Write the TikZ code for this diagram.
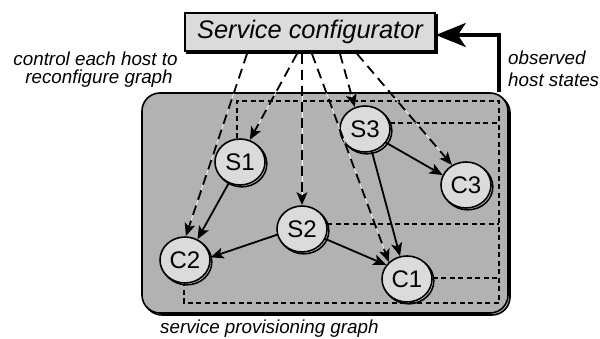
\documentclass[tikz,border=0pt]{standalone}
\usepackage{fontspec}
\setmainfont{Liberation Sans}
\usetikzlibrary{arrows.meta,shapes.geometric,shadows,calc}

\definecolor{nodefill}{gray}{0.86}
\definecolor{panelfill}{gray}{0.70}

\begin{document}
\begin{tikzpicture}[x=1pt,y=-1pt,
  host/.style={ellipse, draw, line width=1.6pt, fill=nodefill,
    minimum width=50pt, minimum height=46pt, inner sep=0pt,
    font=\fontsize{24}{28}\selectfont,
    copy shadow={shadow xshift=1.8pt, shadow yshift=-1.8pt}},
  configbox/.style={rectangle, draw, line width=1.6pt, fill=nodefill,
    minimum width=250pt, minimum height=38pt, inner sep=0pt,
    font=\fontsize{25.4}{28}\selectfont\itshape,
    copy shadow={shadow xshift=2pt, shadow yshift=-2pt}},
  panel/.style={rectangle, draw, line width=1.6pt, fill=panelfill,
    rounded corners=18pt, minimum width=366pt, minimum height=220pt,
    copy shadow={shadow xshift=2pt, shadow yshift=-2pt}},
  lbl/.style={font=\fontsize{18.8}{20}\selectfont\itshape, inner sep=0pt},
  ctrl/.style={line width=1.8pt, dash pattern=on 10pt off 6pt,
    -{Stealth[length=13pt,width=11pt,inset=3pt]},
    preaction={draw=white, solid, line width=0.6pt}},
  flow/.style={line width=1.8pt, -{Stealth[length=13pt,width=11pt,inset=3pt]}},
  obs/.style={line width=1.8pt, dash pattern=on 5pt off 3.5pt},
  feedback/.style={line width=3.5pt, -{Stealth[length=30pt,width=24pt,inset=8pt]}}
]
\useasboundingbox (0,0) rectangle (600,339);

% provisioning graph panel
\node[panel] (graph) at (325,203) {};

% configurator
\node[configbox] (cfg) at (310,32) {Service configurator};

% hosts
\node[host] (S1) at (240,162) {S1};
\node[host] (C2) at (185,260) {C2};
\node[host] (S2) at (302,229) {S2};
\node[host] (C1) at (407,279) {C1};
\node[host] (S3) at (365,129) {S3};
\node[host] (C3) at (466,185) {C3};

% state collection lines
\coordinate (obsNE) at (499,101);
\coordinate (obsSE) at (499,303);
\draw[obs] (S1.97) |- (obsNE) -- (obsSE) -| (C2.268);
\draw[obs] (S3.14) -- (S3.14 -| obsNE);
\draw[obs] (S2.12) -- (S2.12 -| obsNE);
\draw[obs] (C1.2) -- (C1.2 -| obsNE);

% feedback to the configurator
\draw[feedback] (graph.north -| obsNE) |- ($(cfg.east)+(0,3)$);

% service edges
\draw[flow] (S1.242) -- (C2.59);
\draw[flow] (S2.193) -- (C2.6);
\draw[flow] (S2.337) -- (C1.146);
\draw[flow] (S3.327) -- (C3.157);
\draw[flow] (S3.287) -- (C1.107);

% control edges
\draw[ctrl] ($(cfg.south)+(-63,2)$) -- (C2.88);
\draw[ctrl] ($(cfg.south)+(-13,2)$) -- (S1.66);
\draw[ctrl] ($(cfg.south)+(-8,2)$) -- (S2.north);
\draw[ctrl] ($(cfg.south)+(2,2)$) -- (C1.137);
\draw[ctrl] ($(cfg.south)+(30,2)$) -- (S3.115);
\draw[ctrl] ($(cfg.south)+(47,2)$) -- (C3.125);

% labels
\node[lbl, anchor=base] (ctl1) at (95.5,66) {control each host to};
\node[lbl, anchor=base] (ctl2) at (99,84) {reconfigure graph};
\node[lbl, anchor=base west] (obs1) at (508,65) {observed};
\node[lbl, anchor=base west] (obs2) at (508,87) {host states};
\node[lbl, anchor=base west] (spg) at (160,333) {service provisioning graph};
\end{tikzpicture}
\end{document}
